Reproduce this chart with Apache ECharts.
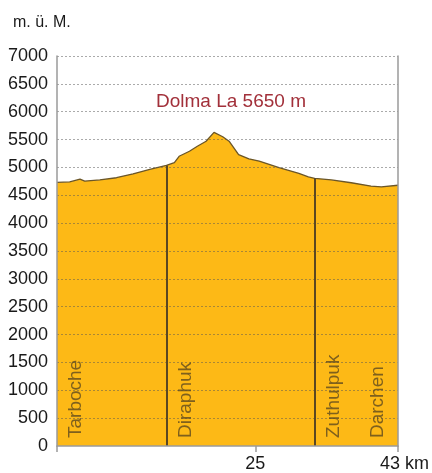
<!DOCTYPE html>
<html><head><meta charset="utf-8">
<script src="https://cdn.jsdelivr.net/npm/echarts@6/dist/echarts.min.js"></script>
<style>html,body{margin:0;padding:0;background:#fff}#c{width:432px;height:473px}</style>
</head><body><div id="c"></div>
<script>
// Elevation profile (km, metres)
const profileKm   = [0, 1.6, 2.9, 3.5, 5.4, 7.5, 9.6, 11.7, 13.8, 14.8, 15.4, 16.7, 17.7, 18.8, 19.8, 20.9, 21.7, 22.3, 22.9, 24.2, 25.5, 28.0, 30.5, 31.7, 32.5, 34.6, 37.1, 39.6, 40.9, 43];
const profileElev = [4730, 4740, 4790, 4755, 4775, 4815, 4885, 4965, 5035, 5085, 5200, 5290, 5380, 5470, 5630, 5550, 5470, 5350, 5230, 5155, 5115, 4995, 4895, 4830, 4805, 4775, 4725, 4665, 4650, 4680];
// Stations
const stationNames = ['Tarboche', 'Diraphuk', 'Zuthulpuk', 'Darchen'];
const stationKm    = [0, 13.8, 32.5, 43];
// Stage dividers (km, elevation at divider)
const dividerKm   = [13.8, 32.5];
const dividerElev = [5035, 4805];
// Axes
const xTickValues  = [0, 25, 43];
const xLabelValues = [25, 43];
const xLabelTexts  = ['25', '43 km'];
const yMin = 0, yMax = 7000, yStep = 500;
const yGridValues = [500, 1000, 1500, 2000, 2500, 3000, 3500, 4000, 4500, 5000, 5500, 6000, 6500, 7000];
const yUnit = 'm. ü. M.';
const passLabel = 'Dolma La 5650 m';

const FONT = 'Liberation Sans';
const chart = echarts.init(document.getElementById('c'), null, {renderer: 'canvas'});

const profileData = profileKm.map((k, i) => [k, profileElev[i]]);
const dividerLines = dividerKm.map((k, i) => [{coord: [k, 0]}, {coord: [k, dividerElev[i]]}]);
const stationData = stationKm.map((k, i) => {
  const last = i === stationKm.length - 1;
  return {
    value: [k, 0],
    name: stationNames[i],
    label: {position: [last ? -20 : 19, -8]}
  };
});

chart.setOption({
  animation: false,
  title: [
    {text: passLabel, left: 151, top: 87,
     textStyle: {fontFamily: FONT, fontSize: 19, fontWeight: 'normal', color: '#a2303a'}},
    {text: yUnit, left: 8, top: 10,
     textStyle: {fontFamily: FONT, fontSize: 16, fontWeight: 'normal', color: '#1a1a1a'}}
  ],
  grid: {left: 57, right: 32, top: 56, bottom: 25, containLabel: false},
  xAxis: {
    type: 'value', min: 0, max: 43, z: 5,
    axisLine: {show: true, lineStyle: {color: '#9a9a9a', width: 1.5}},
    axisTick: {show: true, customValues: xTickValues, length: 6, lineStyle: {color: '#9a9a9a', width: 1.5}},
    axisLabel: {
      show: true, customValues: xLabelValues, margin: 9,
      formatter: v => {
        const t = xLabelTexts[xLabelValues.indexOf(v)];
        return v === 43 ? '{k|' + t + '}' : t;
      },
      fontFamily: FONT, fontSize: 18, color: '#1a1a1a',
      rich: {k: {fontFamily: FONT, fontSize: 18, color: '#1a1a1a', padding: [0, 0, 0, 13]}}
    },
    splitLine: {show: false}
  },
  yAxis: [{
    type: 'value', min: yMin, max: yMax, interval: yStep, z: 5,
    axisLine: {show: true, lineStyle: {color: '#9a9a9a', width: 1.5}},
    axisTick: {show: false},
    axisLabel: {margin: 9, fontFamily: FONT, fontSize: 18, color: '#1a1a1a', formatter: v => String(v)},
    splitLine: {show: false}
  }, {
    type: 'value', min: yMin, max: yMax, interval: yStep, position: 'right', z: 5,
    axisLine: {show: true, lineStyle: {color: '#9a9a9a', width: 1.5}},
    axisTick: {show: false}, axisLabel: {show: false}, splitLine: {show: false}
  }],
  series: [{
    type: 'line', data: profileData, symbol: 'none', z: 2,
    lineStyle: {color: '#6b5628', width: 1.3},
    areaStyle: {color: '#fdb916', opacity: 1},
    markLine: {
      silent: true, symbol: 'none', label: {show: false},
      lineStyle: {color: '#5a4722', width: 2, type: 'solid'},
      data: dividerLines
    }
  }, {
    type: 'scatter', data: stationData, symbolSize: 0, z: 6, silent: true,
    label: {
      show: true, formatter: p => p.name, rotate: 90,
      align: 'left', verticalAlign: 'middle',
      fontFamily: FONT, fontSize: 19, color: '#5e4a1f'
    },
    markLine: {
      silent: true, symbol: 'none', label: {show: false}, z: 3,
      lineStyle: {color: 'rgba(85,85,85,0.5)', width: 1, type: [2, 2]},
      data: yGridValues.map(v => ({yAxis: v}))
    }
  }]
});
</script></body></html>
